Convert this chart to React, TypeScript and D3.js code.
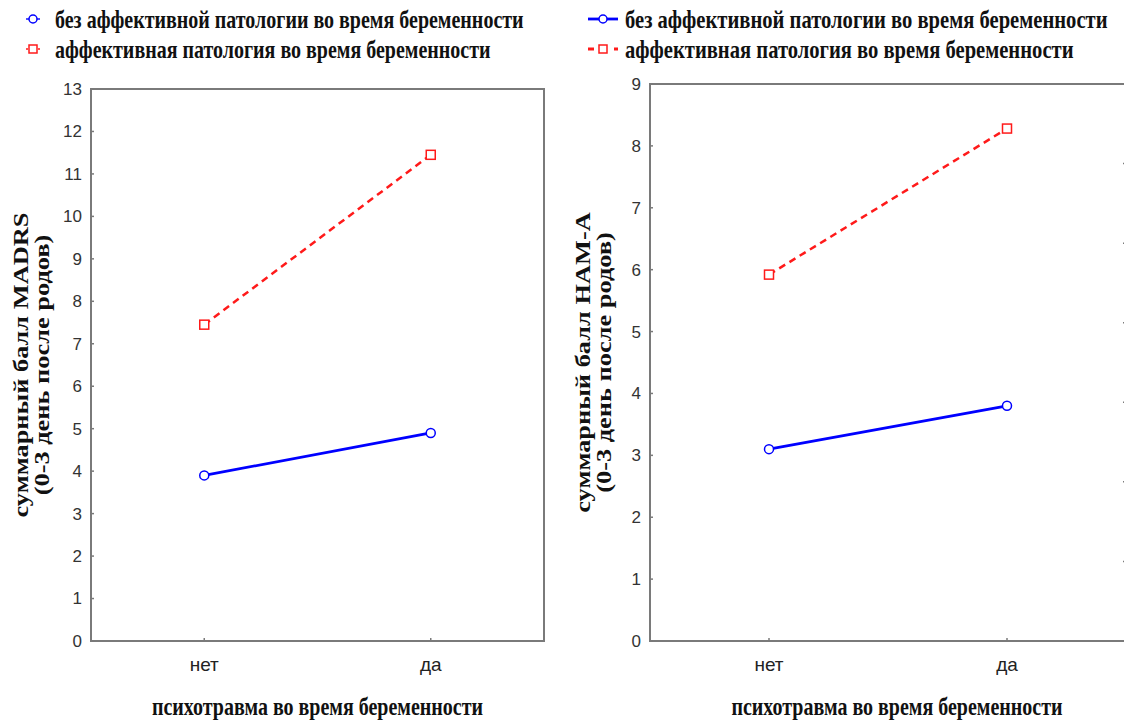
import React from "react";
import * as d3 from "d3";

const categories = ["нет", "да"];
const seriesNames = [
  "без аффективной патологии во время беременности",
  "аффективная патология во время беременности",
];
const madrsNoPath = [3.9, 4.9];
const madrsPath = [7.45, 11.45];
const hamaNoPath = [3.1, 3.8];
const hamaPath = [5.92, 8.28];
const madrsTicks = [0, 1, 2, 3, 4, 5, 6, 7, 8, 9, 10, 11, 12, 13];
const hamaTicks = [0, 1, 2, 3, 4, 5, 6, 7, 8, 9];
const edgeTicks = [1, 2, 3, 4, 5, 6];

const W = 1124;
const H = 722;
const BLUE = "#0000ff";
const RED = "#ff1a1a";
const FRAME = "#7a7a7a";
const SERIF = "'Liberation Serif', 'Times New Roman', serif";
const SANS = "'Liberation Sans Narrow', 'Liberation Sans', Arial, sans-serif";
const STRETCH = 1.25;

type PanelProps = {
  x0: number;
  x1: number;
  y0: number;
  y1: number;
  max: number;
  ticks: number[];
  blue: number[];
  red: number[];
  title1: string;
  title2: string;
  titleX: number;
  rightEdge?: boolean;
};

function Panel(p: PanelProps) {
  const x = d3.scalePoint<string>().domain(categories).range([p.x0, p.x1]).padding(0.5);
  const y = d3.scaleLinear().domain([0, p.max]).range([p.y1, p.y0]);
  const line = d3
    .line<number>()
    .x((_, i) => x(categories[i]) as number)
    .y((d) => y(d));
  const yc = (p.y0 + p.y1) / 2;
  const edge = d3.scaleLinear().domain([0, 7]).range([p.y1, p.y0]);
  const titleCx = (p.x0 + Math.min(p.x1, W)) / 2 + (p.rightEdge ? 10 : 0);
  return (
    <g>
      <path
        d={
          p.rightEdge
            ? `M${p.x1},${p.y0}H${p.x0}V${p.y1}H${p.x1}`
            : `M${p.x0},${p.y0}H${p.x1}V${p.y1}H${p.x0}Z`
        }
        fill="none"
        stroke={FRAME}
        strokeWidth={2}
      />
      {p.rightEdge &&
        edgeTicks.map((t) => (
          <line key={"e" + t} x1={p.x1 - 3} x2={p.x1} y1={edge(t)} y2={edge(t)} stroke={FRAME} strokeWidth={1.5} />
        ))}
      {p.ticks.map((t) => (
        <g key={t}>
          <line x1={p.x0} x2={p.x0 + 3} y1={y(t)} y2={y(t)} stroke={FRAME} strokeWidth={1.5} />
          <text
            x={p.x0 - 9}
            y={y(t)}
            dy="0.35em"
            textAnchor="end"
            fontFamily={SANS}
            fontSize={17}
            fill="#333"
          >
            {t}
          </text>
        </g>
      ))}
      {categories.map((c) => (
        <g key={c}>
          <line x1={x(c)} x2={x(c)} y1={p.y1} y2={p.y1 - 3} stroke={FRAME} strokeWidth={1.5} />
          <text x={x(c)} y={p.y1 + 30} textAnchor="middle" fontFamily={SANS} fontSize={19} fill="#222">
            {c}
          </text>
        </g>
      ))}
      <text
        transform={`translate(${titleCx},${p.y1 + 74}) scale(1,${STRETCH})`}
        textAnchor="middle"
        fontFamily={SERIF}
        fontWeight="bold"
        fontSize={20}
        fill="#111"
      >
        психотравма во время беременности
      </text>
      <text
        transform={`translate(${p.titleX},${yc}) rotate(-90) scale(1.32,1)`}
        textAnchor="middle"
        fontFamily={SERIF}
        fontWeight="bold"
        fontSize={20}
        fill="#111"
      >
        <tspan x={0} dy="0">{p.title1}</tspan>
        <tspan x={0} dy="21">{p.title2}</tspan>
      </text>
      <path d={line(p.red) || ""} fill="none" stroke={RED} strokeWidth={2.5} strokeDasharray="7,5" />
      <path d={line(p.blue) || ""} fill="none" stroke={BLUE} strokeWidth={2.8} />
      {p.red.map((v, i) => (
        <rect
          key={"r" + i}
          x={(x(categories[i]) as number) - 4.5}
          y={y(v) - 4.5}
          width={9}
          height={9}
          fill="white"
          stroke={RED}
          strokeWidth={1.5}
        />
      ))}
      {p.blue.map((v, i) => (
        <circle
          key={"b" + i}
          cx={x(categories[i]) as number}
          cy={y(v)}
          r={4.5}
          fill="white"
          stroke={BLUE}
          strokeWidth={1.5}
        />
      ))}
    </g>
  );
}

function Legend({ x, y, full, size }: { x: number; y: number; full: boolean; size: number }) {
  return (
    <g>
      {seriesNames.map((s, i) => {
        const cy = y + i * 30;
        const isBlue = i === 0;
        const col = isBlue ? BLUE : RED;
        const lx0 = full ? x - 37 : x - 29;
        const lx1 = full ? x - 7 : x - 15;
        const mx = (lx0 + lx1) / 2;
        const my = cy - 9;
        return (
          <g key={s}>
            <line
              x1={lx0}
              x2={lx1}
              y1={my}
              y2={my}
              stroke={col}
              strokeWidth={full ? 2.8 : 1.4}
              strokeDasharray={isBlue ? undefined : full ? "6,7" : "2,10"}
            />
            {isBlue ? (
              <circle cx={mx} cy={my} r={4} fill="white" stroke={col} strokeWidth={1.5} />
            ) : (
              <rect x={mx - 4} y={my - 4} width={8} height={8} fill="white" stroke={col} strokeWidth={1.5} />
            )}
            <text
              transform={`translate(${x},${cy}) scale(1,${STRETCH})`}
              fontFamily={SERIF}
              fontWeight="bold"
              fontSize={size}
              fill="#111"
            >
              {s}
            </text>
          </g>
        );
      })}
    </g>
  );
}

export default function App() {
  return (
    <svg width={W} height={H} style={{ position: "absolute", left: 0, top: 0, background: "white" }}>
      <rect width={W} height={H} fill="white" />
      <Legend x={55} y={28} full={false} size={20} />
      <Legend x={625} y={28} full={true} size={20.6} />
      <Panel
        x0={91}
        x1={544}
        y0={89}
        y1={641}
        max={13}
        ticks={madrsTicks}
        blue={madrsNoPath}
        red={madrsPath}
        title1="суммарный балл MADRS"
        title2="(0-3 день после родов)"
        titleX={28}
      />
      <Panel
        x0={650}
        x1={1126}
        y0={84}
        y1={641}
        max={9}
        ticks={hamaTicks}
        blue={hamaNoPath}
        red={hamaPath}
        title1="суммарный балл HAM-A"
        title2="(0-3 день после родов)"
        titleX={590}
        rightEdge
      />
    </svg>
  );
}
